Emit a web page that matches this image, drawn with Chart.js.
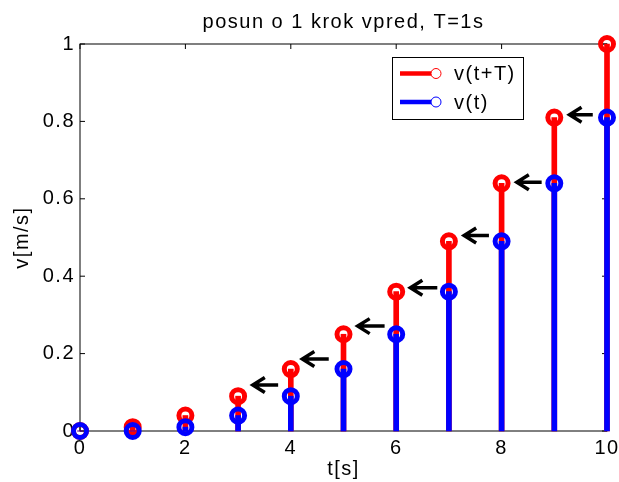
<!DOCTYPE html>
<html>
<head>
<meta charset="utf-8">
<script src="https://cdn.jsdelivr.net/npm/chart.js@4.4.0/dist/chart.umd.min.js"></script>
<style>
  html, body { margin: 0; padding: 0; background: #fff; }
</style>
</head>
<body>
<canvas id="c" width="619" height="482"></canvas>
<script>
// ===== data =====
const tValues = [0, 1, 2, 3, 4, 5, 6, 7, 8, 9, 10];
const vShifted = [0, 0.01, 0.04, 0.09, 0.16, 0.25, 0.36, 0.49, 0.64, 0.81, 1]; // v(t+T)
const vNow = [0, 0, 0.01, 0.04, 0.09, 0.16, 0.25, 0.36, 0.49, 0.64, 0.81];      // v(t)
// arrows "<-" between stems
const arrowTipT = [3.26, 4.2, 5.25, 6.25, 7.27, 8.27, 9.27];
const arrowTailT = [3.76, 4.72, 5.78, 6.78, 7.76, 8.76, 9.73];
const arrowV = [0.119, 0.186, 0.271, 0.37, 0.505, 0.643, 0.817];
const xTicks = [0, 2, 4, 6, 8, 10];
const yTicks = [0, 0.2, 0.4, 0.6, 0.8, 1];

const titleText = "posun o 1 krok vpred, T=1s";
const FONT = '"Liberation Sans", Arial, sans-serif';
const RED = "#ff0000";
const BLUE = "#0000ff";

const toXY = (ys) => tValues.map((t, i) => ({ x: t, y: ys[i] }));

// canvas letter spacing (matlab text looks a bit wide)
const spacingPlugin = {
  id: "spacing",
  beforeUpdate(chart) { chart.ctx.letterSpacing = "1.5px"; },
  beforeDraw(chart) { chart.ctx.letterSpacing = "1.5px"; },
};

// box around axes + inward ticks + title centered on axes
const axesPlugin = {
  id: "axesBox",
  beforeDatasetsDraw(chart) {
    const { ctx, chartArea: a, scales } = chart;
    ctx.save();
    ctx.strokeStyle = "#000";
    ctx.lineWidth = 1;
    ctx.strokeRect(a.left, a.top, a.right - a.left, a.bottom - a.top);
    const len = 5;
    ctx.beginPath();
    scales.x.ticks.forEach((tk) => {
      const x = scales.x.getPixelForValue(tk.value);
      ctx.moveTo(x, a.bottom); ctx.lineTo(x, a.bottom - len);
      ctx.moveTo(x, a.top); ctx.lineTo(x, a.top + len);
    });
    scales.y.ticks.forEach((tk) => {
      const y = scales.y.getPixelForValue(tk.value);
      ctx.moveTo(a.left, y); ctx.lineTo(a.left + len, y);
      ctx.moveTo(a.right, y); ctx.lineTo(a.right - len, y);
    });
    ctx.stroke();

    ctx.fillStyle = "#000";
    ctx.font = "20px " + FONT;
    ctx.textAlign = "center";
    ctx.textBaseline = "alphabetic";
    ctx.fillText(titleText, (a.left + a.right) / 2, a.top - 16);
    ctx.restore();
  },
  afterDatasetsDraw(chart) {
    const { ctx, scales } = chart;
    ctx.save();
    ctx.strokeStyle = "#000";
    ctx.lineWidth = 3.5;
    ctx.lineJoin = "miter";
    ctx.beginPath();
    arrowV.forEach((v, i) => {
      const x1 = scales.x.getPixelForValue(arrowTipT[i]);
      const x2 = scales.x.getPixelForValue(arrowTailT[i]);
      const y = scales.y.getPixelForValue(v);
      ctx.moveTo(x1 + 2, y); ctx.lineTo(x2, y);
      ctx.moveTo(x1 + 13, y - 7.5); ctx.lineTo(x1 + 1, y); ctx.lineTo(x1 + 13, y + 7.5);
    });
    ctx.stroke();
    ctx.restore();
  },
  afterDraw(chart) {
    // legend box in the upper right of the axes
    const { ctx, chartArea: a } = chart;
    const left = a.right - 215, top = a.top + 13, w = 131, h = 62;
    ctx.save();
    ctx.fillStyle = "#fff";
    ctx.fillRect(left, top, w, h);
    ctx.strokeStyle = "#000";
    ctx.lineWidth = 1;
    ctx.strokeRect(left + 0.5, top + 0.5, w, h);
    const items = [chart.data.datasets[2], chart.data.datasets[0]];
    items.forEach((ds, i) => {
      const y = top + 16.5 + i * 28.5;
      ctx.strokeStyle = ds.borderColor;
      ctx.lineWidth = 4.5;
      ctx.beginPath();
      ctx.moveTo(left + 8, y); ctx.lineTo(left + 42, y);
      ctx.stroke();
      ctx.lineWidth = 1;
      ctx.fillStyle = "#fff";
      ctx.beginPath();
      ctx.arc(left + 44, y, 5, 0, Math.PI * 2);
      ctx.fill();
      ctx.stroke();
      ctx.fillStyle = "#000";
      ctx.font = "20px " + FONT;
      ctx.textAlign = "left";
      ctx.textBaseline = "middle";
      ctx.fillText(ds.label, left + 62, y + 1);
    });
    ctx.restore();
  },
};

const pointDs = (label, ys, color, order) => ({
  type: "line",
  label: label,
  data: toXY(ys),
  showLine: false,
  borderColor: color,
  backgroundColor: "rgba(0,0,0,0)",
  pointStyle: "circle",
  pointRadius: 6.5,
  pointBorderWidth: 5,
  pointBackgroundColor: "rgba(0,0,0,0)",
  pointBorderColor: color,
  clip: false,
  order: order,
});

const stemDs = (label, ys, color, order) => ({
  type: "bar",
  label: label,
  data: toXY(ys),
  backgroundColor: color,
  borderColor: color,
  borderWidth: 0,
  barThickness: 5,
  grouped: false,
  clip: false,
  order: order,
});

new Chart(document.getElementById("c").getContext("2d"), {
  type: "bar",
  data: {
    datasets: [
      pointDs("v(t)", vNow, BLUE, 0),
      stemDs("v(t) stem", vNow, BLUE, 1),
      pointDs("v(t+T)", vShifted, RED, 2),
      stemDs("v(t+T) stem", vShifted, RED, 3),
    ],
  },
  options: {
    responsive: false,
    devicePixelRatio: 1,
    animation: false,
    events: [],
    layout: { padding: { top: 44, right: 12, left: 0, bottom: 0 } },
    plugins: {
      legend: { display: false },
      title: { display: false },
      tooltip: { enabled: false },
    },
    scales: {
      x: {
        type: "linear",
        min: 0,
        max: 10,
        offset: false,
        grid: { display: false, drawTicks: false },
        border: { display: false },
        afterBuildTicks: (s) => { s.ticks = xTicks.map((v) => ({ value: v })); },
        afterFit: (s) => {
          s.height = 51;
          s.paddingLeft = 0;
          s.paddingRight = 0;
        },
        ticks: {
          autoSkip: false,
          maxRotation: 0,
          padding: 5,
          color: "#000",
          font: { family: FONT, size: 20 },
          callback: (v) => String(v),
        },
        title: {
          display: true,
          text: "t[s]",
          color: "#000",
          font: { family: FONT, size: 20 },
          padding: { top: 0, bottom: 1 },
        },
      },
      y: {
        type: "linear",
        min: 0,
        max: 1,
        grid: { display: false, drawTicks: false },
        border: { display: false },
        afterBuildTicks: (s) => { s.ticks = yTicks.map((v) => ({ value: v })); },
        afterFit: (s) => {
          s.width = 80;
          s.paddingTop = 0;
          s.paddingBottom = 0;
        },
        ticks: {
          padding: 5,
          color: "#000",
          font: { family: FONT, size: 20 },
          callback: (v) => String(v),
        },
        title: {
          display: true,
          text: "v[m/s]",
          color: "#000",
          font: { family: FONT, size: 20 },
          padding: { top: 10, bottom: 0 },
        },
      },
    },
  },
  plugins: [spacingPlugin, axesPlugin],
});
</script>
</body>
</html>
